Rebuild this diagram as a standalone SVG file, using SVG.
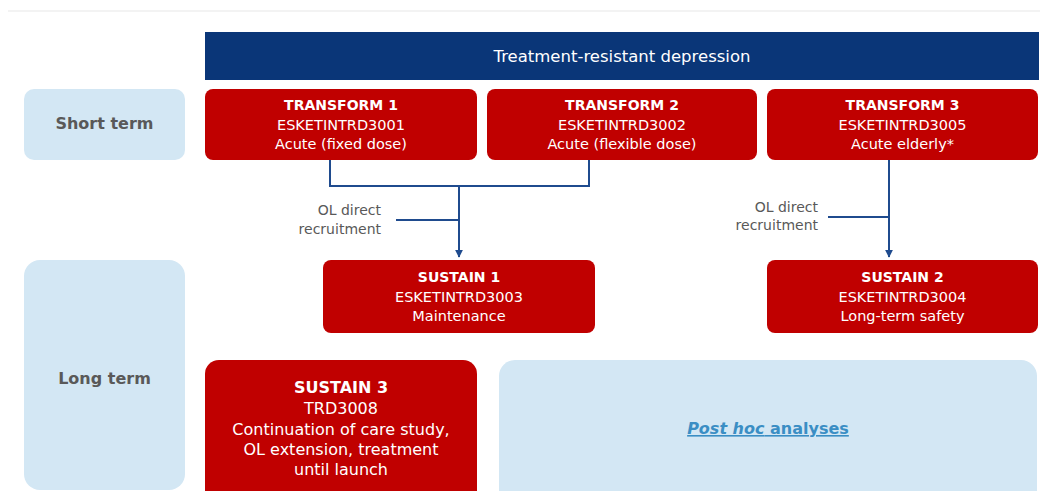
<svg xmlns="http://www.w3.org/2000/svg" width="1040" height="491" viewBox="0 0 1040 491">
<defs>
<marker id="arr" viewBox="0 0 10 10" refX="9" refY="5" markerWidth="4" markerHeight="4" orient="auto" markerUnits="strokeWidth">
<path d="M0,0 L10,5 L0,10 Z" fill="#1f4b8e"/>
</marker>
<style>
.red{fill:#c00000}
.lab{fill:#d3e7f4}
.t{font-family:"DejaVu Sans",Verdana,sans-serif;text-anchor:middle;fill:#ffffff}
.b{font-weight:bold;font-size:14px}
.r{font-size:14.5px}
.side{font-family:"DejaVu Sans",Verdana,sans-serif;text-anchor:middle;font-weight:bold;font-size:16px;fill:#595959}
.ol{font-family:"DejaVu Sans",Verdana,sans-serif;text-anchor:end;font-size:14px;fill:#595959}
.ln{fill:none;stroke:#1f4b8e;stroke-width:2}
</style>
</defs>
<rect width="1040" height="491" fill="#ffffff"/>
<line x1="8" y1="11" x2="1040" y2="11" stroke="#efefef" stroke-width="1.5"/>

<g id="header">
<rect x="205" y="32" width="834" height="48" fill="#0a3678"/>
<text x="622" y="62" class="t" style="font-size:16.5px">Treatment-resistant depression</text>
</g>

<g id="short-term">
<rect x="24" y="89" width="161" height="71" rx="10" class="lab"/>
<text x="104.5" y="129" class="side">Short term</text>
</g>

<g id="long-term">
<rect x="24" y="260" width="161" height="230" rx="16" class="lab"/>
<text x="104.5" y="384" class="side">Long term</text>
</g>

<g id="transform1">
<rect x="205" y="89" width="272" height="71" rx="8" class="red"/>
<text x="341" y="110" class="t b">TRANSFORM 1</text>
<text x="341" y="130" class="t r">ESKETINTRD3001</text>
<text x="341" y="149" class="t r">Acute (fixed dose)</text>
</g>

<g id="transform2">
<rect x="487" y="89" width="270" height="71" rx="8" class="red"/>
<text x="622" y="110" class="t b">TRANSFORM 2</text>
<text x="622" y="130" class="t r">ESKETINTRD3002</text>
<text x="622" y="149" class="t r">Acute (flexible dose)</text>
</g>

<g id="transform3">
<rect x="767" y="89" width="271" height="71" rx="8" class="red"/>
<text x="902.5" y="110" class="t b">TRANSFORM 3</text>
<text x="902.5" y="130" class="t r">ESKETINTRD3005</text>
<text x="902.5" y="149" class="t r">Acute elderly*</text>
</g>

<g id="sustain1">
<rect x="323" y="260" width="272" height="73" rx="8" class="red"/>
<text x="459" y="282" class="t b">SUSTAIN 1</text>
<text x="459" y="302" class="t r">ESKETINTRD3003</text>
<text x="459" y="321" class="t r">Maintenance</text>
</g>

<g id="sustain2">
<rect x="767" y="260" width="271" height="73" rx="8" class="red"/>
<text x="902.5" y="282" class="t b">SUSTAIN 2</text>
<text x="902.5" y="302" class="t r">ESKETINTRD3004</text>
<text x="902.5" y="321" class="t r">Long-term safety</text>
</g>

<g id="sustain3">
<rect x="205" y="360" width="272" height="150" rx="14" class="red"/>
<text x="341" y="393" class="t" style="font-weight:bold;font-size:16px">SUSTAIN 3</text>
<text x="341" y="414" class="t" style="font-size:16px">TRD3008</text>
<text x="341" y="435" class="t" style="font-size:16px">Continuation of care study,</text>
<text x="341" y="455" class="t" style="font-size:16px">OL extension, treatment</text>
<text x="341" y="475" class="t" style="font-size:16px">until launch</text>
</g>

<g id="posthoc">
<rect x="499" y="360" width="538" height="150" rx="16" class="lab"/>
<text x="768" y="434" style="font-family:'DejaVu Sans',Verdana,sans-serif;font-size:16px;font-weight:bold;fill:#3a8ec4;text-anchor:middle;text-decoration:underline"><tspan font-style="italic">Post hoc</tspan> analyses</text>
</g>

<g id="connectors">
<path d="M330,160 V186 H589 V160" class="ln"/>
<path d="M459,186 V257" class="ln" marker-end="url(#arr)"/>
<path d="M396,220 H459" class="ln"/>
<path d="M889,160 V257" class="ln" marker-end="url(#arr)"/>
<path d="M828,217 H889" class="ln"/>
<text x="381" y="215" class="ol">OL direct</text>
<text x="381" y="234" class="ol">recruitment</text>
<text x="818" y="212" class="ol">OL direct</text>
<text x="818" y="230" class="ol">recruitment</text>
</g>
</svg>
